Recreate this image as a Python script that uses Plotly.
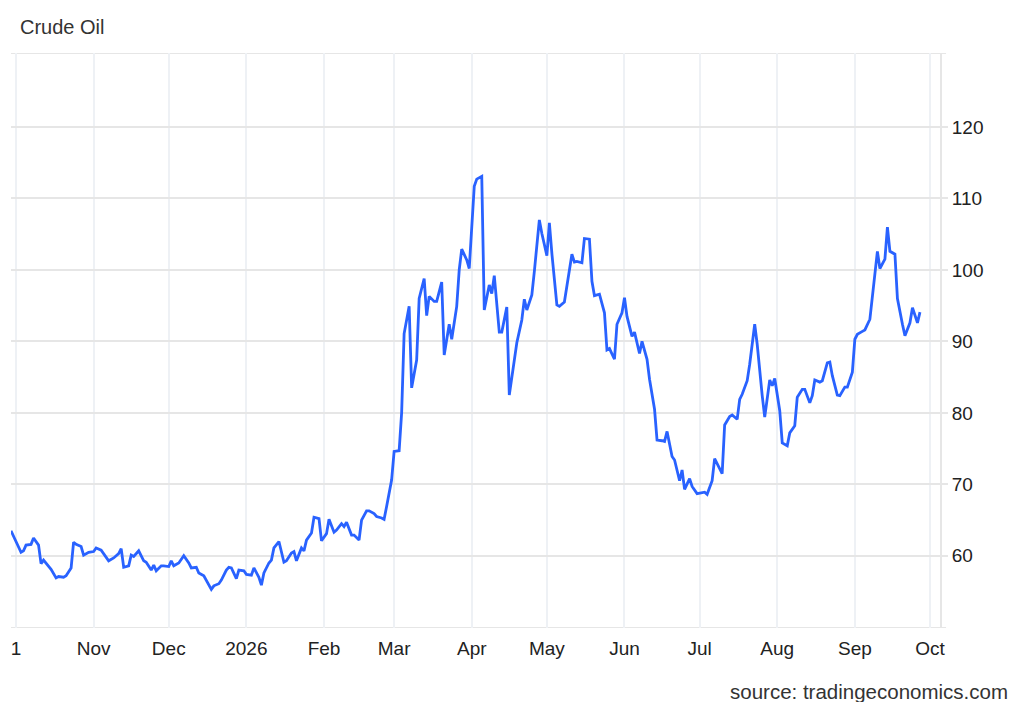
import plotly.graph_objects as go

# daily crude oil prices (USD/bbl)
dates = [
    "2025-09-29", "2025-09-30", "2025-10-01", "2025-10-03", "2025-10-04", "2025-10-05",
    "2025-10-07", "2025-10-08", "2025-10-10", "2025-10-11", "2025-10-12", "2025-10-14",
    "2025-10-15", "2025-10-17", "2025-10-18", "2025-10-20", "2025-10-21", "2025-10-23",
    "2025-10-24", "2025-10-25", "2025-10-27", "2025-10-28", "2025-10-30", "2025-11-01",
    "2025-11-02", "2025-11-04", "2025-11-06", "2025-11-07", "2025-11-09", "2025-11-11",
    "2025-11-12", "2025-11-13", "2025-11-15", "2025-11-16", "2025-11-17", "2025-11-19",
    "2025-11-21", "2025-11-22", "2025-11-24", "2025-11-25", "2025-11-26", "2025-11-28",
    "2025-11-29", "2025-12-01", "2025-12-02", "2025-12-03", "2025-12-05", "2025-12-07",
    "2025-12-09", "2025-12-10", "2025-12-12", "2025-12-13", "2025-12-15", "2025-12-16",
    "2025-12-18", "2025-12-19", "2025-12-21", "2025-12-22", "2025-12-24", "2025-12-25",
    "2025-12-26", "2025-12-28", "2025-12-29", "2025-12-31", "2026-01-01", "2026-01-03",
    "2026-01-04", "2026-01-06", "2026-01-07", "2026-01-08", "2026-01-10", "2026-01-11",
    "2026-01-12", "2026-01-14", "2026-01-16", "2026-01-17", "2026-01-19", "2026-01-20",
    "2026-01-21", "2026-01-23", "2026-01-24", "2026-01-25", "2026-01-27", "2026-01-28",
    "2026-01-30", "2026-01-31", "2026-02-02", "2026-02-03", "2026-02-05", "2026-02-06",
    "2026-02-08", "2026-02-09", "2026-02-10", "2026-02-12", "2026-02-13", "2026-02-15",
    "2026-02-16", "2026-02-18", "2026-02-19", "2026-02-21", "2026-02-22", "2026-02-24",
    "2026-02-25", "2026-02-26", "2026-02-28", "2026-03-01", "2026-03-03", "2026-03-04",
    "2026-03-05", "2026-03-07", "2026-03-08", "2026-03-10", "2026-03-11", "2026-03-13",
    "2026-03-14", "2026-03-15", "2026-03-17", "2026-03-18", "2026-03-20", "2026-03-21",
    "2026-03-23", "2026-03-24", "2026-03-26", "2026-03-27", "2026-03-28", "2026-03-30",
    "2026-03-31", "2026-04-02", "2026-04-03", "2026-04-05", "2026-04-06", "2026-04-08",
    "2026-04-09", "2026-04-10", "2026-04-12", "2026-04-13", "2026-04-15", "2026-04-16",
    "2026-04-18", "2026-04-19", "2026-04-21", "2026-04-22", "2026-04-23", "2026-04-25",
    "2026-04-26", "2026-04-28", "2026-04-29", "2026-05-01", "2026-05-02", "2026-05-03",
    "2026-05-05", "2026-05-06", "2026-05-08", "2026-05-09", "2026-05-11", "2026-05-12",
    "2026-05-13", "2026-05-15", "2026-05-16", "2026-05-18", "2026-05-19", "2026-05-20",
    "2026-05-22", "2026-05-24", "2026-05-25", "2026-05-26", "2026-05-28", "2026-05-29",
    "2026-05-31", "2026-06-01", "2026-06-02", "2026-06-04", "2026-06-05", "2026-06-07",
    "2026-06-08", "2026-06-10", "2026-06-11", "2026-06-13", "2026-06-14", "2026-06-16",
    "2026-06-17", "2026-06-18", "2026-06-20", "2026-06-21", "2026-06-23", "2026-06-24",
    "2026-06-25", "2026-06-27", "2026-06-28", "2026-06-30", "2026-07-01", "2026-07-03",
    "2026-07-04", "2026-07-06", "2026-07-07", "2026-07-09", "2026-07-10", "2026-07-11",
    "2026-07-13", "2026-07-14", "2026-07-16", "2026-07-17", "2026-07-18", "2026-07-20",
    "2026-07-21", "2026-07-23", "2026-07-24", "2026-07-26", "2026-07-27", "2026-07-29",
    "2026-07-30", "2026-07-31", "2026-08-02", "2026-08-03", "2026-08-05", "2026-08-06",
    "2026-08-08", "2026-08-09", "2026-08-11", "2026-08-12", "2026-08-14", "2026-08-15",
    "2026-08-16", "2026-08-18", "2026-08-19", "2026-08-21", "2026-08-22", "2026-08-23",
    "2026-08-25", "2026-08-26", "2026-08-28", "2026-08-29", "2026-08-31", "2026-09-01",
    "2026-09-02", "2026-09-04", "2026-09-05", "2026-09-07", "2026-09-08", "2026-09-10",
    "2026-09-11", "2026-09-13", "2026-09-14", "2026-09-15", "2026-09-17", "2026-09-18",
    "2026-09-20", "2026-09-21", "2026-09-23", "2026-09-24", "2026-09-26", "2026-09-27",
]

prices = [
    63.5, 62.7, 62.0, 60.5, 60.7, 61.5, 61.6, 62.5, 61.5, 58.9, 59.4, 58.6,
    58.1, 56.9, 57.1, 57.0, 57.2, 58.3, 61.9, 61.6, 61.3, 60.1, 60.5, 60.6,
    61.1, 60.8, 59.7, 59.3, 59.7, 60.3, 61.0, 58.4, 58.6, 60.1, 59.9, 60.7,
    59.3, 59.1, 58.0, 58.7, 57.9, 58.6, 58.6, 58.5, 59.3, 58.6, 59.0, 60.0,
    59.0, 58.3, 58.4, 57.6, 57.2, 56.6, 55.3, 55.8, 56.1, 56.6, 58.0, 58.4,
    58.3, 56.8, 58.0, 57.9, 57.4, 57.3, 58.3, 57.0, 55.9, 57.6, 59.0, 59.4,
    61.1, 62.0, 59.1, 59.3, 60.4, 60.6, 59.3, 61.1, 60.7, 62.2, 63.2, 65.4,
    65.2, 62.1, 63.1, 65.1, 63.3, 63.6, 64.5, 64.1, 64.7, 62.9, 62.9, 62.2,
    65.0, 66.3, 66.3, 65.9, 65.5, 65.3, 65.1, 66.9, 70.6, 74.6, 74.7, 80.0,
    91.1, 94.9, 83.5, 87.4, 96.0, 98.8, 93.6, 96.3, 95.6, 95.6, 98.3, 88.1,
    92.4, 90.3, 94.9, 100.0, 102.9, 101.4, 100.2, 111.7, 112.7, 113.1, 94.4, 97.9,
    96.7, 99.2, 91.3, 91.3, 94.8, 82.5, 87.7, 89.8, 93.0, 95.9, 94.4, 96.5,
    99.8, 107.0, 105.1, 102.0, 106.6, 102.3, 95.1, 94.9, 95.5, 97.9, 102.2, 101.1,
    101.2, 101.0, 104.4, 104.3, 98.4, 96.4, 96.6, 94.0, 88.8, 89.0, 87.5, 92.4,
    94.0, 96.1, 93.5, 90.7, 91.3, 88.3, 90.0, 87.5, 84.7, 80.5, 76.2, 76.1,
    76.0, 77.4, 73.9, 73.4, 70.5, 72.0, 69.3, 70.8, 69.7, 68.7, 68.8, 68.9,
    68.6, 70.5, 73.6, 72.1, 71.5, 78.3, 79.5, 79.7, 79.1, 81.9, 82.6, 84.5,
    86.8, 92.4, 89.6, 82.4, 79.4, 84.6, 83.8, 84.8, 80.3, 75.8, 75.4, 77.2,
    78.2, 82.2, 83.3, 83.3, 81.4, 82.4, 84.6, 84.3, 84.5, 87.0, 87.1, 85.2,
    82.5, 82.4, 83.6, 83.6, 85.7, 90.3, 91.0, 91.4, 91.6, 93.1, 96.0, 102.6,
    100.2, 101.5, 106.0, 102.6, 102.2, 96.0, 92.4, 90.8, 92.6, 94.7, 92.6, 94.1,
]

month_ticks = [
    "2025-10-01", "2025-11-01", "2025-12-01", "2026-01-01", "2026-02-01", "2026-03-01",
    "2026-04-01", "2026-05-01", "2026-06-01", "2026-07-01", "2026-08-01", "2026-09-01",
    "2026-10-01",
]
month_labels = ["1", "Nov", "Dec", "2026", "Feb", "Mar", "Apr", "May", "Jun", "Jul", "Aug", "Sep", "Oct"]
price_ticks = [60, 70, 80, 90, 100, 110, 120]

FONT = "Liberation Sans, Arial, sans-serif"
GRID_H = "#e6e6e6"
GRID_V = "#eef1f5"

fig = go.Figure()
fig.add_trace(
    go.Scatter(
        x=dates,
        y=prices,
        mode="lines",
        line=dict(color="#2962ff", width=2.8),
        hoverinfo="x+y",
    )
)

# top border and bottom axis line reach a little past the right axis, like tick marks
for level in (130.35, 49.9):
    fig.add_shape(
        type="line", xref="paper", yref="y", x0=0, x1=1.0065, y0=level, y1=level,
        line=dict(color=GRID_H, width=2), layer="below",
    )

# the page body adds an 8px margin, so the figure is sized to fit inside it
fig.update_layout(
    width=1008,
    height=694,
    margin=dict(l=3, r=76, t=45, b=74),
    paper_bgcolor="white",
    plot_bgcolor="white",
    showlegend=False,
    font=dict(family=FONT, size=19, color="#222"),
    title=dict(
        text="Crude Oil",
        x=0.0119,
        xanchor="left",
        y=0.9726,
        yanchor="middle",
        font=dict(family=FONT, size=20, color="#333"),
    ),
    xaxis=dict(
        type="date",
        range=["2025-09-29", "2026-10-05"],
        tickvals=month_ticks,
        ticktext=month_labels,
        showgrid=True,
        gridcolor=GRID_V,
        gridwidth=1.5,
        showline=False,
        zeroline=False,
        ticks="",
        ticklabelstandoff=7,
        tickfont=dict(size=19, color="#222"),
    ),
    yaxis=dict(
        side="right",
        range=[49.9, 130.35],
        tickvals=price_ticks,
        showgrid=True,
        gridcolor=GRID_H,
        gridwidth=1.5,
        showline=True,
        linecolor=GRID_H,
        linewidth=2,
        ticks="outside",
        ticklen=6,
        tickcolor=GRID_H,
        tickwidth=1.5,
        zeroline=False,
        tickfont=dict(size=19, color="#222"),
    ),
)

fig.add_annotation(
    text="source: tradingeconomics.com",
    xref="paper",
    yref="paper",
    x=1.0754,
    y=-0.1113,
    xanchor="right",
    yanchor="middle",
    showarrow=False,
    font=dict(family=FONT, size=20.5, color="#333"),
)

fig.write_html("out.html")
